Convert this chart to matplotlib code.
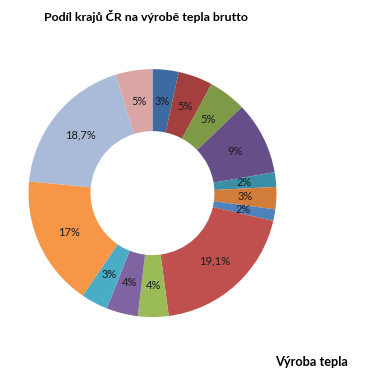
import matplotlib
matplotlib.use("Agg")
import matplotlib.pyplot as plt

# Data (clockwise from 12 o'clock)
shares = [3.4, 4.5, 4.9, 9.5, 1.9, 2.9, 1.5, 19.3, 4.0, 4.1, 3.5, 17.0, 18.7, 4.8]
labels = ["3%", "5%", "5%", "9%", "2%", "3%", "2%", "19,1%", "4%", "4%", "3%", "17%", "18,7%", "5%"]
colors = ["#3D6AA0", "#A3403E", "#7E9A47", "#664F88", "#3A8FA6", "#D17C38",
          "#4F81BD", "#C0504D", "#9BBB59", "#8064A2", "#4BACC6", "#F79646",
          "#AABBD9", "#D9A6A5"]
title = "Podíl krajů ČR na výrobě tepla brutto"
series_name = "Výroba tepla"

plt.rcParams['font.family'] = ['Lato', 'DejaVu Sans']

fig = plt.figure(figsize=(3.85, 3.82), dpi=100)
ax = fig.add_axes([0.074, 0.170, 0.644, 0.649])
wedges, texts = ax.pie(shares, colors=colors, startangle=90, counterclock=False,
                       radius=1.0, wedgeprops=dict(width=0.5, linewidth=0),
                       labels=labels, labeldistance=0.745,
                       textprops=dict(fontsize=8, color="#1a1a1a", ha="center", va="center"))
for t in texts:
    t.set_ha("center")
    t.set_va("center")
ax.set_xlim(-1, 1)
ax.set_ylim(-1, 1)
ax.set_aspect("equal")
ax.axis("off")

fig.text(0.378, 0.958, title, ha="center", va="center", fontsize=8.9, fontweight="bold")
fig.text(0.809, 0.052, series_name, ha="center", va="center", fontsize=9.2, fontweight="bold")

fig.savefig("out.png", dpi=100)
